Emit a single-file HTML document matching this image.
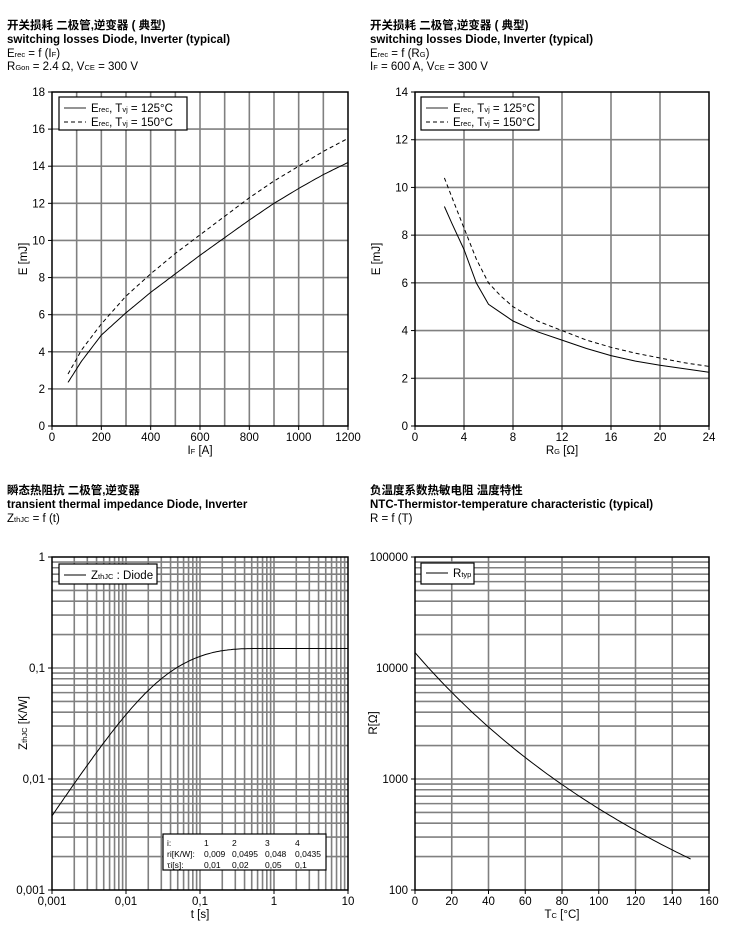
<!DOCTYPE html>
<html><head><meta charset="utf-8">
<style>
body{margin:0;background:#fff;width:736px;height:932px;overflow:hidden;font-family:"Liberation Sans","Noto Sans CJK SC",sans-serif;}
svg text{font-family:"Liberation Sans","Noto Sans CJK SC",sans-serif;fill:#000;}
</style></head><body>
<svg id="s" width="736" height="932" xmlns="http://www.w3.org/2000/svg">
<g font-size="11.5" font-weight="bold">
<text x="7" y="29">开关损耗 二极管,逆变器 ( 典型)</text>
<text x="7" y="43">switching losses Diode, Inverter (typical)</text>
<text x="370" y="29">开关损耗 二极管,逆变器 ( 典型)</text>
<text x="370" y="43">switching losses Diode, Inverter (typical)</text>
<text x="7" y="494">瞬态热阻抗 二极管,逆变器</text>
<text x="7" y="508">transient thermal impedance Diode, Inverter</text>
<text x="370" y="494">负温度系数热敏电阻 温度特性</text>
<text x="370" y="508">NTC-Thermistor-temperature characteristic (typical)</text>
</g>
<g font-size="11.5">
<text x="7" y="57">E<tspan font-size="7.5">rec</tspan> = f (I<tspan font-size="7.5">F</tspan>)</text>
<text x="7" y="70">R<tspan font-size="7.5">Gon</tspan> = 2.4 Ω, V<tspan font-size="7.5">CE</tspan> = 300 V</text>
<text x="370" y="57">E<tspan font-size="7.5">rec</tspan> = f (R<tspan font-size="7.5">G</tspan>)</text>
<text x="370" y="70">I<tspan font-size="7.5">F</tspan> = 600 A, V<tspan font-size="7.5">CE</tspan> = 300 V</text>
<text x="7" y="522">Z<tspan font-size="7.5">thJC</tspan> = f (t)</text>
<text x="370" y="522">R = f (T)</text>
</g>
</svg>
<script>
var s=document.getElementById('s');var NS='http://www.w3.org/2000/svg';
function el(t,a,txt){var e=document.createElementNS(NS,t);for(var k in a)e.setAttribute(k,a[k]);if(txt!=null)e.innerHTML=txt;s.appendChild(e);return e;}
function line(x1,y1,x2,y2,c,w,d){var a={x1:x1,y1:y1,x2:x2,y2:y2,stroke:c,'stroke-width':w};if(d)a['stroke-dasharray']=d;el('line',a);}
function txt(x,y,t,anc,fs){el('text',{x:x,y:y,'text-anchor':anc||'middle','font-size':fs||11.5},t);}
function path(pts,d){var p='M'+pts.map(function(q){return q[0].toFixed(1)+','+q[1].toFixed(1)}).join('L');var a={d:p,fill:'none',stroke:'#000','stroke-width':1};if(d)a['stroke-dasharray']=d;el('path',a);}
var G='#808080',GW=1.6;
(function(){var L=52,R=348,T=92,B=426;var X=function(v){return L+v/1200*(R-L)},Y=function(v){return B-v/18*(B-T)};
for(var v=100;v<1200;v+=100)line(X(v),T,X(v),B,G,GW);
for(var v=2;v<18;v+=2)line(L,Y(v),R,Y(v),G,GW);
el('rect',{x:L,y:T,width:R-L,height:B-T,fill:'none',stroke:'#000','stroke-width':1.5});
for(var v=0;v<=1200;v+=200){line(X(v),B,X(v),B+4,'#000',1);txt(X(v),B+15,v);}
for(var v=0;v<=18;v+=2){line(L-4,Y(v),L,Y(v),'#000',1);txt(L-7,Y(v)+4,v,'end');}
function sm(d){var p=[];for(var i=0;i<d.length-1;i++){for(var t=0;t<1;t+=0.1){p.push([X(d[i][0]+(d[i+1][0]-d[i][0])*t),Y(d[i][1]+(d[i+1][1]-d[i][1])*t)]);}}p.push([X(d[d.length-1][0]),Y(d[d.length-1][1])]);return p;}
path(sm([[65,2.35],[120,3.5],[200,4.9],[300,6.1],[400,7.2],[500,8.2],[600,9.2],[700,10.15],[800,11.1],[900,12.0],[1000,12.8],[1100,13.55],[1200,14.2]]));
path(sm([[65,2.8],[120,4.1],[200,5.5],[300,7.0],[400,8.2],[500,9.3],[600,10.3],[700,11.3],[800,12.3],[900,13.2],[1000,14.0],[1100,14.8],[1200,15.5]]),'4,3');
el('rect',{x:59,y:97,width:128,height:33,fill:'#fff',stroke:'#000','stroke-width':1.2});
line(64,108,86,108,'#555',1.2);line(64,122,86,122,'#000',1,'4,3');
txt(91,112,'E<tspan font-size="7.5">rec</tspan>, T<tspan font-size="7.5">vj</tspan> = 125°C','start');
txt(91,126,'E<tspan font-size="7.5">rec</tspan>, T<tspan font-size="7.5">vj</tspan> = 150°C','start');
el('text',{transform:'translate(27,259) rotate(-90)','text-anchor':'middle','font-size':11.5},'E [mJ]');
txt(200,454,'I<tspan font-size="7.5">F</tspan> [A]');
})();
(function(){var L=415,R=709,T=92,B=426;var X=function(v){return L+v/24*(R-L)},Y=function(v){return B-v/14*(B-T)};
for(var v=4;v<24;v+=4)line(X(v),T,X(v),B,G,GW);
for(var v=2;v<14;v+=2)line(L,Y(v),R,Y(v),G,GW);
el('rect',{x:L,y:T,width:R-L,height:B-T,fill:'none',stroke:'#000','stroke-width':1.5});
for(var v=0;v<=24;v+=4){line(X(v),B,X(v),B+4,'#000',1);txt(X(v),B+15,v);}
for(var v=0;v<=14;v+=2){line(L-4,Y(v),L,Y(v),'#000',1);txt(L-7,Y(v)+4,v,'end');}
function sm(d){return d.map(function(q){return [X(q[0]),Y(q[1])]});}
path(sm([[2.4,9.2],[3,8.5],[4,7.4],[5,6.0],[6,5.1],[7,4.75],[8,4.4],[10,3.95],[12,3.6],[14,3.25],[16,2.95],[18,2.72],[20,2.55],[22,2.4],[24,2.25]]));
path(sm([[2.4,10.4],[3,9.6],[4,8.3],[5,7.0],[6,6.0],[7,5.45],[8,5.0],[10,4.4],[12,4.0],[14,3.6],[16,3.3],[18,3.05],[20,2.85],[22,2.65],[24,2.5]]),'4,3');
el('rect',{x:421,y:97,width:118,height:33,fill:'#fff',stroke:'#000','stroke-width':1.2});
line(426,108,448,108,'#555',1.2);line(426,122,448,122,'#000',1,'4,3');
txt(453,112,'E<tspan font-size="7.5">rec</tspan>, T<tspan font-size="7.5">vj</tspan> = 125°C','start');
txt(453,126,'E<tspan font-size="7.5">rec</tspan>, T<tspan font-size="7.5">vj</tspan> = 150°C','start');
el('text',{transform:'translate(380,259) rotate(-90)','text-anchor':'middle','font-size':11.5},'E [mJ]');
txt(562,454,'R<tspan font-size="7.5">G</tspan> [Ω]');
})();
(function(){var L=52,R=348,T=557,B=890;var X=function(v){return L+(Math.log10(v)+3)/4*(R-L)},Y=function(v){return B-(Math.log10(v)+3)/3*(B-T)};
for(var d=-3;d<1;d++)for(var m=1;m<10;m++){var v=m*Math.pow(10,d);if(v>0.001)line(X(v),T,X(v),B,G,GW);}
for(var d=-3;d<0;d++)for(var m=1;m<10;m++){var v=m*Math.pow(10,d);if(v>0.001)line(L,Y(v),R,Y(v),G,GW);}
el('rect',{x:L,y:T,width:R-L,height:B-T,fill:'none',stroke:'#000','stroke-width':1.5});
var xl=['0,001','0,01','0,1','1','10'];for(var i=0;i<5;i++){var x=L+i*(R-L)/4;line(x,B,x,B+4,'#000',1);txt(x,B+15,xl[i]);}
var yl=['0,001','0,01','0,1','1'];for(var i=0;i<4;i++){var y=B-i*(B-T)/3;line(L-4,y,L,y,'#000',1);txt(L-7,y+4,yl[i],'end');}
var r=[0.009,0.0495,0.048,0.0435],tau=[0.01,0.02,0.05,0.1],p=[];
for(var k=0;k<=200;k++){var t=Math.pow(10,-3+k*4/200),z=0;for(var i=0;i<4;i++)z+=r[i]*(1-Math.exp(-t/tau[i]));p.push([X(t),Y(z)]);}
path(p);
el('rect',{x:59,y:564,width:98,height:20,fill:'#fff',stroke:'#000','stroke-width':1.2});
line(64,575,86,575,'#000',1);
txt(91,579,'Z<tspan font-size="7.5">thJC</tspan> : Diode','start');
el('rect',{x:163,y:834,width:163,height:36,fill:'#fff',stroke:'#000','stroke-width':1.2});
var fs=8.5,cx=[167,204,232,265,295];
var rows=[['i:','1','2','3','4'],['ri[K/W]:','0,009','0,0495','0,048','0,0435'],['τi[s]:','0,01','0,02','0,05','0,1']];
for(var j=0;j<3;j++)for(var i=0;i<5;i++)txt(cx[i],846+j*11,rows[j][i],'start',fs);
el('text',{transform:'translate(27,723) rotate(-90)','text-anchor':'middle','font-size':11.5},'Z<tspan font-size="7.5">thJC</tspan> [K/W]');
txt(200,918,'t [s]');
})();
(function(){var L=415,R=709,T=557,B=890;var X=function(v){return L+v/160*(R-L)},Y=function(v){return B-(Math.log10(v)-2)/3*(B-T)};
for(var v=20;v<160;v+=20)line(X(v),T,X(v),B,G,GW);
for(var d=2;d<5;d++)for(var m=1;m<10;m++){var v=m*Math.pow(10,d);if(v>100)line(L,Y(v),R,Y(v),G,GW);}
el('rect',{x:L,y:T,width:R-L,height:B-T,fill:'none',stroke:'#000','stroke-width':1.5});
for(var v=0;v<=160;v+=20){line(X(v),B,X(v),B+4,'#000',1);txt(X(v),B+15,v);}
var yl=['100','1000','10000','100000'];for(var i=0;i<4;i++){var y=B-i*(B-T)/3;line(L-4,y,L,y,'#000',1);txt(L-7,y+4,yl[i],'end');}
var p=[];for(var t=0;t<=150;t+=2){var R_=5000*Math.exp(3300*(1/(t+273.15)-1/298.15));p.push([X(t),Y(R_)]);}
path(p);
el('rect',{x:421,y:563,width:53,height:21,fill:'#fff',stroke:'#000','stroke-width':1.2});
line(426,573,448,573,'#000',1);
txt(453,577,'R<tspan font-size="7.5">typ</tspan>','start');
el('text',{transform:'translate(377,723) rotate(-90)','text-anchor':'middle','font-size':11.5},'R[Ω]');
txt(562,918,'T<tspan font-size="7.5">C</tspan> [°C]');
})();
</script>
</body></html>
